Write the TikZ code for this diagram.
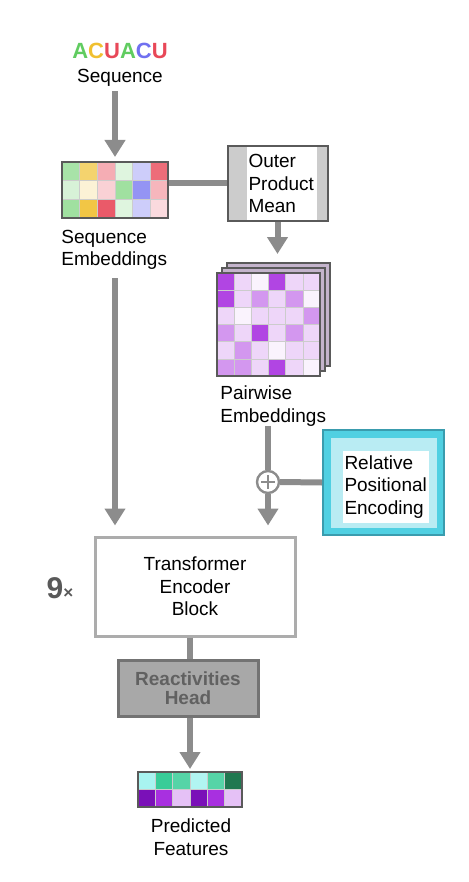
\documentclass[tikz,border=0pt]{standalone}
\usepackage{fontspec}
\setmainfont{Liberation Sans}
\usetikzlibrary{arrows.meta}
\definecolor{sg}{HTML}{60CC60}
\definecolor{sy}{HTML}{F0C030}
\definecolor{sr}{HTML}{E84858}
\definecolor{sb}{HTML}{7070F0}
\definecolor{pp}{HTML}{A830E0}
\definecolor{pk}{HTML}{7A10B8}
\definecolor{tl}{HTML}{38CC98}
\definecolor{td}{HTML}{207850}
\definecolor{tc}{HTML}{A8F4F0}
\definecolor{linegray}{HTML}{8C8C8C}
\definecolor{edgegray}{HTML}{5A5A5A}
\definecolor{rpecyan}{HTML}{50D0E2}
\definecolor{rpeedge}{HTML}{3A9CAE}
\definecolor{layer}{HTML}{C4B4CC}
\begin{document}
\begin{tikzpicture}[x=0.5pt,y=-0.5pt,
  lab/.style={font=\fontsize{9.5}{11.2}\selectfont,align=left,inner sep=0pt},
  flow/.style={draw=linegray,line width=3pt,-{Triangle[width=10pt,length=8.5pt]}},
  link/.style={draw=linegray,line width=3pt},
  cell/.style={draw=black!20,line width=0.3pt},
  frame/.style={draw=edgegray,line width=1pt,inner sep=0pt}]
\useasboundingbox (0,0) rectangle (468,882);

% sequence
\node[font=\fontsize{11}{11}\selectfont\bfseries] (acu) at (120,51) {\color{sg}A\color{sy}C\color{sr}U\color{sg}A\color{sb}C\color{sr}U};
\node[lab] (seqlab) at (120,78) {Sequence};
\foreach \row [count=\r from 0] in {{sg!55,sy!70,sr!45,sg!20,sb!35,sr!80},{sg!25,sy!20,sr!25,sg!60,sb!75,sr!40},{sg!60,sy!90,sr!90,sg!20,sb!35,sr!20}}
  \foreach \c [count=\q from 0] in \row
    \filldraw[cell,fill=\c] (62+\q*17.667,162+\r*18.667) rectangle ++(17.667,18.667);
\node[frame,minimum width=53pt,minimum height=28pt] (seqemb) at (115,190) {};
\node[lab,anchor=west] (seqemblab) at (61,250) {Sequence\\Embeddings};

% outer product mean
\node[frame,fill=gray!40,minimum width=50pt,minimum height=37.5pt] (opm) at (277.5,183.5) {};
\node[lab,fill=white,text width=33pt,minimum height=36pt,inner xsep=1pt] (opmtext) at (281.5,183.5) {Outer\\Product\\Mean};

% pairwise
\filldraw[frame,fill=layer] (227,263) rectangle ++(103,103);
\filldraw[frame,fill=layer] (222,268) rectangle ++(103,103);
\foreach \row [count=\r from 0] in {{90,20,6,90,20,20},{90,20,50,20,50,6},{20,6,20,20,20,50},{50,20,90,20,50,20},{20,50,20,6,20,20},{50,50,20,90,20,6}}
  \foreach \v [count=\q from 0] in \row
    \filldraw[cell,fill=pp!\v] (217+\q*17.167,273+\r*17.167) rectangle ++(17.167,17.167);
\node[frame,minimum size=51.5pt] (pair) at (268.5,324.5) {};
\node[lab,anchor=west] (pairlab) at (220,406) {Pairwise\\Embeddings};

% positional encoding
\node[circle,draw=linegray,line width=1.2pt,fill=white,minimum size=11pt,inner sep=0pt] (plus) at (268,482) {};
\draw[linegray,line width=1pt] ([yshift=3.5pt]plus.center) -- ([yshift=-3.5pt]plus.center)
  ([xshift=-3.5pt]plus.center) -- ([xshift=3.5pt]plus.center);
\node[draw=rpeedge,line width=1pt,fill=rpecyan,minimum width=60.5pt,minimum height=52.5pt] (rpe) at (383.5,482.5) {};
\node[fill=rpecyan!40!white,minimum width=53pt,minimum height=45pt] (rpeglow) at (rpe) {};
\node[lab,fill=white,text width=41pt,minimum height=36pt,inner xsep=1pt] (rpetext) at (385.5,487) {Relative\\Positional\\Encoding};

% encoder and head
\node[draw=gray!65,line width=1.5pt,fill=white,minimum width=100pt,minimum height=49.5pt,align=center,font=\fontsize{9.5}{11.2}\selectfont] (tfm) at (195,586.5) {Transformer\\Encoder\\Block};
\node[text=black!65,font=\bfseries] (nine) at (60,588) {{\fontsize{15}{15}\selectfont 9}{\fontsize{8.5}{8.5}\selectfont ×}};
\node[draw=black!55,line width=1.5pt,fill=gray!68,text=black!62,minimum width=70pt,minimum height=28pt,align=center,font=\fontsize{9.5}{9.5}\selectfont\bfseries] (head) at (188,688) {Reactivities\\Head};

% prediction
\foreach \row [count=\r from 0] in {{tc,tl,tl!85,tc!90,tl!85,td},{pk,pp,pp!30,pk,pp,pp!30}}
  \foreach \c [count=\q from 0] in \row
    \filldraw[cell,fill=\c] (138+\q*17.333,772+\r*17.5) rectangle ++(17.333,17.5);
\node[frame,minimum width=52pt,minimum height=17.5pt] (pred) at (190,789.5) {};
\node[lab,align=center] (predlab) at (191,837) {Predicted\\Features};

\draw[flow,shorten <=2pt,shorten >=2pt] (seqemb.north |- seqlab.south) -- (seqemb.north);
\draw[link] (opm.west -| seqemb.east) -- (opm.west);
\draw[flow,shorten >=9pt] (opm.south) -- (opm.south |- pair.north);
\draw[link] (plus.north |- pairlab.south) -- (plus.north);
\draw[flow,shorten >=5pt] (plus.south) -- (plus.south |- tfm.north);
\draw[link] (rpe.west) -- (plus.east);
\draw[flow,shorten <=4pt,shorten >=5pt] (seqemb.south |- seqemblab.south) -- (seqemb.south |- tfm.north);
\draw[link] (pred.north |- tfm.south) -- (pred.north |- head.north);
\draw[flow,shorten >=1pt] (pred.north |- head.south) -- (pred.north);
\end{tikzpicture}
\end{document}
